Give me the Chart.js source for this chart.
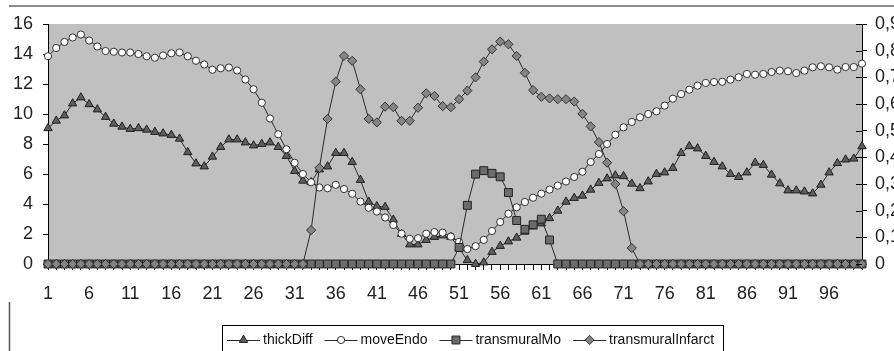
<!DOCTYPE html>
<html><head><meta charset="utf-8">
<script src="https://cdn.jsdelivr.net/npm/chart.js@4/dist/chart.umd.min.js"></script>
<style>html,body{margin:0;padding:0;background:#fff;overflow:hidden;}canvas{display:block;}</style>
</head><body>
<canvas id="c" width="894" height="351"></canvas>
<script>
const categories = [1,2,3,4,5,6,7,8,9,10,11,12,13,14,15,16,17,18,19,20,
  21,22,23,24,25,26,27,28,29,30,31,32,33,34,35,36,37,38,39,40,
  41,42,43,44,45,46,47,48,49,50,51,52,53,54,55,56,57,58,59,60,
  61,62,63,64,65,66,67,68,69,70,71,72,73,74,75,76,77,78,79,80,
  81,82,83,84,85,86,87,88,89,90,91,92,93,94,95,96,97,98,99,100];
const xTickLabels = ['1','6','11','16','21','26','31','36','41','46','51','56','61','66','71','76','81','86','91','96'];
const leftTicks = [0,2,4,6,8,10,12,14,16];
const rightTicks = [0,0.1,0.2,0.3,0.4,0.5,0.6,0.7,0.8,0.9];

const thickDiff = [9.05,9.55,9.9,10.7,11.1,10.65,10.3,9.8,9.35,9.15,
  9.0,9.05,8.95,8.8,8.7,8.6,8.35,7.45,6.7,6.5,
  7.15,7.8,8.3,8.3,8.1,7.9,8.0,8.1,7.8,7.2,
  6.2,5.55,5.45,6.3,6.5,7.4,7.4,6.8,5.6,4.15,
  3.85,3.8,2.95,2.0,1.3,1.3,1.6,1.8,1.9,1.8,
  1.05,0.25,0.0,0.1,0.8,1.2,1.5,1.75,2.15,2.5,
  2.7,3.05,3.55,4.15,4.4,4.55,4.95,5.4,5.7,5.9,
  5.85,5.35,5.05,5.5,6.0,6.1,6.4,7.4,7.85,7.7,
  7.2,6.8,6.5,6.0,5.8,6.1,6.75,6.6,5.95,5.37,
  4.9,4.9,4.83,4.7,5.28,6.1,6.72,6.96,7.02,7.84];
const moveEndo = [13.85,14.4,14.8,15.1,15.3,14.9,14.5,14.2,14.15,14.1,
  14.1,14.0,13.85,13.75,13.9,14.05,14.1,13.85,13.55,13.3,
  12.95,13.05,13.1,12.9,12.3,11.65,10.75,9.7,8.65,7.65,
  6.75,6.0,5.45,5.1,5.05,5.28,5.0,4.68,4.16,3.75,
  3.5,3.1,2.6,2.02,1.68,1.72,2.02,2.13,2.09,1.83,
  1.48,1.0,1.19,1.61,2.2,2.8,3.35,3.78,4.13,4.42,
  4.69,4.96,5.22,5.5,5.8,6.15,6.8,7.33,8.0,8.62,
  9.11,9.47,9.78,10.0,10.18,10.56,11.02,11.33,11.62,11.89,
  12.07,12.13,12.15,12.29,12.45,12.67,12.62,12.67,12.8,12.89,
  12.85,12.73,12.89,13.11,13.18,13.11,12.96,13.13,13.13,13.36];
const transmuralMo = [0,0,0,0,0,0,0,0,0,0,
  0,0,0,0,0,0,0,0,0,0,
  0,0,0,0,0,0,0,0,0,0,
  0,0,0,0,0,0,0,0,0,0,
  0,0,0,0,0,0,0,0,0,0,
  0.062,0.22,0.337,0.35,0.34,0.327,0.268,0.163,0.13,0.147,
  0.168,0.09,0,0,0,0,0,0,0,0,
  0,0,0,0,0,0,0,0,0,0,
  0,0,0,0,0,0,0,0,0,0,
  0,0,0,0,0,0,0,0,0,0];
const transmuralInfarct = [0,0,0,0,0,0,0,0,0,0,
  0,0,0,0,0,0,0,0,0,0,
  0,0,0,0,0,0,0,0,0,0,
  0,0,0.127,0.36,0.544,0.684,0.78,0.762,0.655,0.544,
  0.531,0.59,0.588,0.537,0.537,0.586,0.64,0.63,0.592,0.588,
  0.618,0.65,0.70,0.759,0.805,0.834,0.824,0.78,0.717,0.652,
  0.627,0.621,0.618,0.618,0.609,0.563,0.516,0.457,0.38,0.3,
  0.198,0.06,0,0,0,0,0,0,0,0,
  0,0,0,0,0,0,0,0,0,0,
  0,0,0,0,0,0,0,0,0,0];

const TICK_FONT = {family: '"Liberation Sans", Arial, sans-serif', size: 18};
const LEGEND_FONT = '14px "Liberation Sans", Arial, sans-serif';

const bgPlugin = {
  id: 'bg',
  beforeDraw(chart) {
    const {ctx, chartArea: a} = chart;
    ctx.save();
    ctx.fillStyle = '#ffffff';
    ctx.fillRect(0, 0, chart.width, chart.height);
    ctx.fillStyle = '#c0c0c0';
    ctx.fillRect(a.left, a.top, a.right - a.left, a.bottom - a.top);
    ctx.strokeStyle = '#8a8a8a';
    ctx.lineWidth = 2;
    ctx.beginPath();
    ctx.moveTo(9, 6); ctx.lineTo(chart.width, 6);
    ctx.stroke();
    ctx.strokeStyle = '#555';
    ctx.lineWidth = 1.5;
    ctx.beginPath();
    ctx.moveTo(9.5, 302); ctx.lineTo(9.5, chart.height);
    ctx.stroke();
    ctx.restore();
  },
  afterDraw(chart) {
    // inward half of the cross tick marks on the right axis
    const s = chart.scales.y2, ctx = chart.ctx;
    ctx.save();
    ctx.strokeStyle = '#000'; ctx.lineWidth = 1;
    s.ticks.forEach(t => {
      const y = Math.round(s.getPixelForValue(t.value)) + 0.5;
      ctx.beginPath(); ctx.moveTo(s.left - 6, y); ctx.lineTo(s.left, y); ctx.stroke();
    });
    ctx.restore();
  }
};

const legendPlugin = {
  id: 'xlLegend',
  afterDraw(chart) {
    const ctx = chart.ctx;
    ctx.save();
    ctx.font = LEGEND_FONT;
    const ds = chart.data.datasets;
    const lineW = 33, gapLT = 3, gapItem = 12, padL = 5, padR = 9;
    const widths = ds.map(d => ctx.measureText(d.label).width);
    let total = padL + padR;
    widths.forEach((w, i) => { total += lineW + gapLT + w + (i < ds.length - 1 ? gapItem : 0); });
    const left = 222, top = 325, cy = 340;
    ctx.strokeStyle = '#000'; ctx.lineWidth = 1;
    ctx.strokeRect(left + 0.5, top + 0.5, Math.round(total), 32);
    let x = left + padL;
    ds.forEach((d, i) => {
      ctx.strokeStyle = d.borderColor; ctx.lineWidth = 1;
      ctx.beginPath(); ctx.moveTo(x, cy + 0.5); ctx.lineTo(x + lineW, cy + 0.5); ctx.stroke();
      ctx.fillStyle = d.pointBackgroundColor;
      ctx.strokeStyle = d.pointBorderColor;
      ctx.lineWidth = 1;
      Chart.helpers.drawPoint(ctx, {pointStyle: d.pointStyle, radius: d.pointRadius, rotation: 0, borderWidth: 1}, x + lineW / 2, cy);
      ctx.fillStyle = '#111';
      ctx.textBaseline = 'middle';
      ctx.textAlign = 'left';
      ctx.fillText(d.label, x + lineW + gapLT, cy);
      x += lineW + gapLT + widths[i] + gapItem;
    });
    ctx.restore();
  }
};

const common = {borderWidth: 1, tension: 0, clip: false, pointBorderWidth: 1, pointHoverRadius: 0};

new Chart(document.getElementById('c'), {
  type: 'line',
  data: {
    labels: categories,
    datasets: [
      Object.assign({label: 'thickDiff', data: thickDiff, yAxisID: 'y', order: 4,
        borderColor: '#2a2a2a', pointStyle: 'triangle', pointRadius: 4.8,
        pointBackgroundColor: '#5e5e5e', pointBorderColor: '#1e1e1e'}, common),
      Object.assign({label: 'moveEndo', data: moveEndo, yAxisID: 'y', order: 3,
        borderColor: '#2a2a2a', pointStyle: 'circle', pointRadius: 3.6,
        pointBackgroundColor: '#ffffff', pointBorderColor: '#333333'}, common),
      Object.assign({label: 'transmuralMo', data: transmuralMo, yAxisID: 'y2', order: 2,
        borderColor: '#2a2a2a', pointStyle: 'rect', pointRadius: 5.6,
        pointBackgroundColor: '#6c6c6c', pointBorderColor: '#222222'}, common),
      Object.assign({label: 'transmuralInfarct', data: transmuralInfarct, yAxisID: 'y2', order: 1,
        borderColor: '#2a2a2a', pointStyle: 'rectRot', pointRadius: 4.6,
        pointBackgroundColor: '#858585', pointBorderColor: '#333333'}, common)
    ]
  },
  options: {
    responsive: false,
    animation: false,
    events: [],
    layout: {padding: {top: 24, left: 0, right: 0, bottom: 0}},
    plugins: {legend: {display: false}, tooltip: {enabled: false}},
    scales: {
      x: {
        type: 'category',
        offset: false,
        afterFit: s => { s.height = 87; },
        grid: {drawOnChartArea: false, tickLength: 6, color: '#000', tickColor: '#000'},
        border: {display: true, color: '#000', width: 1},
        ticks: {
          autoSkip: false, maxRotation: 0, minRotation: 0, padding: 13,
          color: '#222', font: TICK_FONT,
          callback: (v, i) => xTickLabels.includes(String(categories[i])) ? String(categories[i]) : ''
        }
      },
      y: {
        position: 'left',
        min: 0, max: 16,
        afterFit: s => { s.width = 48; },
        afterBuildTicks: s => { s.ticks = leftTicks.map(v => ({value: v})); },
        grid: {drawOnChartArea: false, tickLength: 5, color: '#000', tickColor: '#000'},
        border: {display: true, color: '#000', width: 1},
        ticks: {padding: 10, color: '#222', font: TICK_FONT, callback: v => String(v)}
      },
      y2: {
        position: 'right',
        min: 0, max: 0.9,
        afterFit: s => { s.width = 32; },
        afterBuildTicks: s => { s.ticks = rightTicks.map(v => ({value: v})); },
        grid: {drawOnChartArea: false, tickLength: 5, color: '#000', tickColor: '#000'},
        border: {display: true, color: '#000', width: 1},
        ticks: {padding: 8, color: '#222', font: TICK_FONT,
          callback: v => v === 0 ? '0' : Number(v).toFixed(1).replace('.', ',')}
      }
    }
  },
  plugins: [bgPlugin, legendPlugin]
});
</script>
</body></html>
